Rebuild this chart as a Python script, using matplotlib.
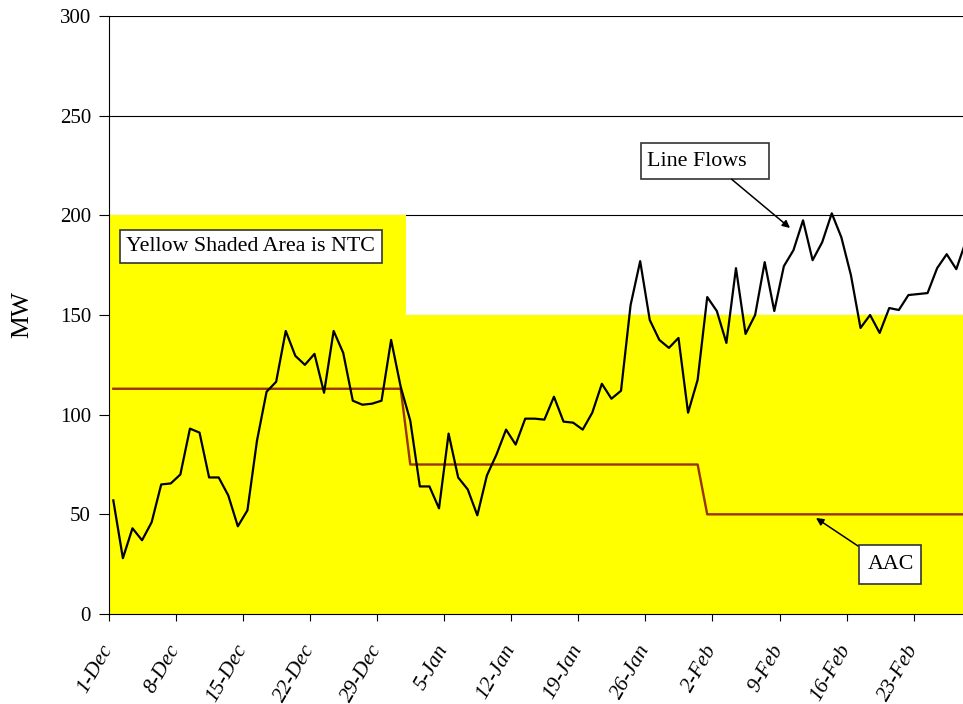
import numpy as np
import matplotlib
matplotlib.use('Agg')
import matplotlib.pyplot as plt
from matplotlib.patches import Rectangle

# Flujos diarios de la linea (MW), 1-Dec a 28-Feb
line_flows = [57, 28, 43, 37, 46, 65, 65.5, 70, 93, 91,
              68.5, 68.5, 59.5, 44, 52, 87, 111.5, 116.5, 142, 129.5,
              125, 130.5, 111, 142, 131, 107, 105, 105.5, 107, 137.5,
              114, 97, 64, 64, 53, 90.5, 68.5, 62.5, 49.5, 69.5,
              80, 92.5, 85, 98, 98, 97.5, 109, 96.5, 96, 92.5,
              101, 115.5, 108, 112, 155, 177, 147.5, 137.5, 133.5, 138.5,
              101, 117.5, 159, 152, 136, 173.5, 140.5, 150, 176.5, 152,
              174.5, 182.5, 197.5, 177.5, 186.5, 201, 189, 170, 143.5, 150,
              141, 153.5, 152.5, 160, 160.5, 161, 173.5, 180.5, 173, 187]

# AAC y NTC por dia
aac = [113] * 31 + [75] * 31 + [50] * 28
ntc = [200] * 31 + [150] * 59

tick_days = [0, 7, 14, 21, 28, 35, 42, 49, 56, 63, 70, 77, 84]
tick_labels = ['1-Dec', '8-Dec', '15-Dec', '22-Dec', '29-Dec', '5-Jan', '12-Jan',
               '19-Jan', '26-Jan', '2-Feb', '9-Feb', '16-Feb', '23-Feb']

plt.rcParams['font.family'] = ['Liberation Serif', 'DejaVu Serif']

fig = plt.figure(figsize=(9.63, 7.04), dpi=100)
ax = fig.add_axes([109/963, 90/704, 854/963, 598/704])

x = np.arange(len(line_flows)) + 0.45

# Area amarilla = NTC
xe = np.arange(len(ntc) + 1)
ax.fill_between(xe, 0, ntc + [ntc[-1]], step='post', color='#ffff00', lw=0, zorder=1)

ax.plot(x, aac, color='#993300', lw=1.7, zorder=3)
ax.plot(x, line_flows, color='black', lw=1.6, zorder=4)

ax.set_xlim(0, 89.15)
ax.set_ylim(0, 300)
ax.set_yticks(np.arange(0, 301, 50))
ax.yaxis.grid(True, color='black', lw=0.8)
ax.set_axisbelow(True)

ax.set_xticks(tick_days)
ax.set_xticklabels(tick_labels, rotation=60, ha='right', va='center', rotation_mode='anchor',
                   style='italic', fontsize=15.5)
ax.tick_params(axis='y', labelsize=15, length=7, direction='out', pad=6)
ax.tick_params(axis='x', length=5, direction='out', pad=18)
ax.set_ylabel('MW', fontsize=18.5)
ax.yaxis.set_label_coords(-76/854, 0.5)

for s in ['top', 'right']:
    ax.spines[s].set_visible(False)


# pixeles de la imagen -> coordenadas de datos
def px(xp, yp):
    return ax.transData.inverted().transform((xp, 704 - yp))


def text_box(x0, y0, x1, y1, label, tx):
    a = px(x0, y1)
    b = px(x1, y0)
    ax.add_patch(Rectangle(a, b[0] - a[0], b[1] - a[1], fc='white', ec='#333333',
                           lw=1.2, zorder=5))
    t = px(tx, (y0 + y1) / 2)
    ax.text(t[0], t[1], label, fontsize=15.8, ha='left', va='center', zorder=6)


text_box(120, 230, 382, 263, 'Yellow Shaded Area is NTC', 126.5)
text_box(641, 143, 769, 179, 'Line Flows', 647)
text_box(858.7, 545, 920.7, 584, 'AAC', 867.5)

arrow = dict(arrowstyle='-|>', color='black', lw=1.1, mutation_scale=11, shrinkA=0, shrinkB=0)
ax.annotate('', xy=px(790, 228), xytext=px(731.7, 179.3), arrowprops=arrow, zorder=5)
ax.annotate('', xy=px(816, 518), xytext=px(858, 546), arrowprops=arrow, zorder=5)

plt.savefig('out.png', dpi=100)
